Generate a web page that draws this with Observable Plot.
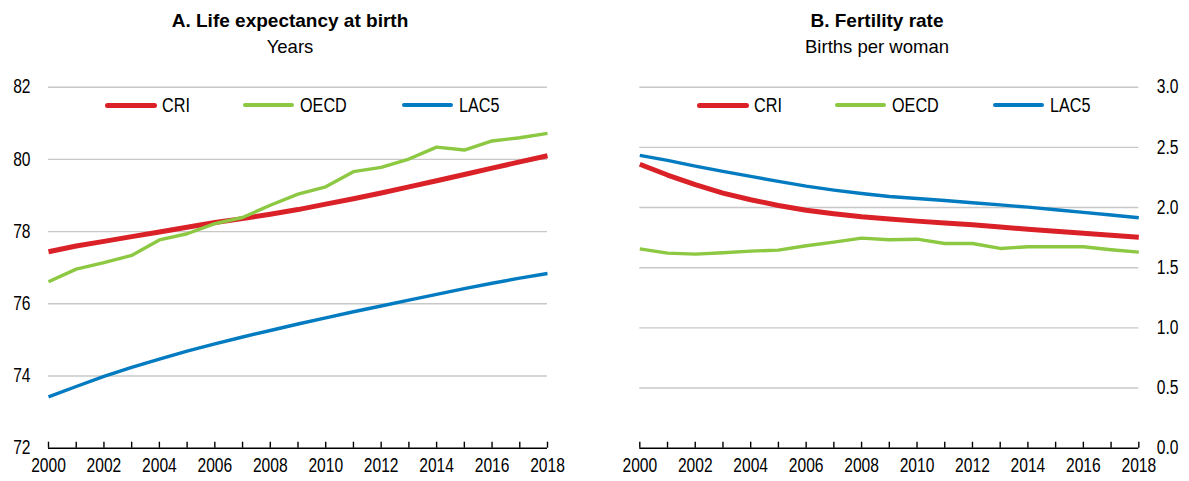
<!DOCTYPE html>
<html>
<head>
<meta charset="utf-8">
<script src="https://cdn.jsdelivr.net/npm/d3@7"></script>
<script src="https://cdn.jsdelivr.net/npm/@observablehq/plot@0.6"></script>
<style>
  body { margin: 0; background: #fff; }
  #wrap { position: relative; width: 1189px; height: 481px; overflow: hidden; font-family: "Liberation Sans", Arial, sans-serif; color: #000; }
  .title, .sub { position: absolute; text-align: center; white-space: nowrap; }
  .title { font-weight: bold; font-size: 19px; line-height: 19px; }
  .sub { font-size: 18.5px; line-height: 18.5px; }
  .panel { position: absolute; top: 62px; }
  .lg { position: absolute; font-family: "Liberation Sans", Arial, sans-serif; font-size: 20px; line-height: 20px; white-space: nowrap; transform: scaleX(0.81); transform-origin: 0 50%; }
  .sw { position: absolute; border-radius: 3px; }
</style>
</head>
<body>
<div id="wrap"></div>
<script>
// ---- data ----
const years = [2000, 2001, 2002, 2003, 2004, 2005, 2006, 2007, 2008, 2009, 2010, 2011, 2012, 2013, 2014, 2015, 2016, 2017, 2018];
const seriesNames = ["CRI", "OECD", "LAC5"];
const seriesColors = ["#DA2128", "#8CC841", "#037BC1"];

const lifeCRI  = [77.44, 77.60, 77.73, 77.86, 77.99, 78.12, 78.25, 78.36, 78.48, 78.61, 78.76, 78.91, 79.07, 79.24, 79.41, 79.58, 79.76, 79.93, 80.10];
const lifeOECD = [76.61, 76.96, 77.14, 77.34, 77.77, 77.94, 78.22, 78.39, 78.73, 79.04, 79.24, 79.66, 79.78, 80.01, 80.34, 80.26, 80.51, 80.60, 80.72];
const lifeLAC5 = [73.42, 73.71, 73.99, 74.24, 74.47, 74.69, 74.89, 75.08, 75.26, 75.44, 75.61, 75.78, 75.94, 76.10, 76.26, 76.42, 76.57, 76.71, 76.84];

const fertCRI  = [2.36, 2.27, 2.19, 2.12, 2.065, 2.017, 1.978, 1.948, 1.923, 1.904, 1.887, 1.872, 1.857, 1.838, 1.82, 1.803, 1.787, 1.770, 1.754];
const fertOECD = [1.657, 1.621, 1.613, 1.624, 1.638, 1.646, 1.682, 1.712, 1.746, 1.732, 1.737, 1.701, 1.701, 1.66, 1.674, 1.674, 1.674, 1.649, 1.629];
const fertLAC5 = [2.433, 2.392, 2.344, 2.30, 2.259, 2.217, 2.178, 2.145, 2.117, 2.092, 2.075, 2.058, 2.04, 2.022, 2.003, 1.982, 1.96, 1.938, 1.915];

const lifeTicks = [72, 74, 76, 78, 80, 82];
const fertTicks = [0, 0.5, 1, 1.5, 2, 2.5, 3];

const titleA = "A. Life expectancy at birth", subA = "Years";
const titleB = "B. Fertility rate", subB = "Births per woman";

// ---- helpers ----
function toRows(arrs) {
  const rows = [];
  arrs.forEach((arr, i) => arr.forEach((v, j) => rows.push({series: seriesNames[i], year: years[j], value: v})));
  return rows;
}
const lineWidths = {CRI: 5, OECD: 3.4, LAC5: 3.4};
const axisFont = "'Liberation Sans', Arial, sans-serif";

function panel({rows, yTicks, yFmt, yAnchor, mLeft, mRight}) {
  const drawOrder = ["LAC5", "CRI", "OECD"];
  return Plot.plot({
    width: 595, height: 419,
    marginTop: 24.7, marginBottom: 33.3, marginLeft: mLeft, marginRight: mRight,
    style: {fontFamily: axisFont, fontSize: "19.5px", color: "#000", background: "transparent"},
    x: {domain: [years[0], years[years.length - 1]]},
    y: {domain: [yTicks[0], yTicks[yTicks.length - 1]]},
    marks: [
      Plot.gridY(yTicks.slice(1), {stroke: "#c8c8c8", strokeOpacity: 1, strokeWidth: 1.4}),
      Plot.axisY(yTicks, {anchor: yAnchor, tickSize: 0, tickPadding: 18, tickFormat: yFmt, fontSize: 19.5, label: null}),
      Plot.axisX(years, {anchor: "bottom", tickSize: -6, tickPadding: 16, strokeWidth: 1.4,
        tickFormat: d => (d % 2 === 0 ? String(d) : ""), fontSize: 19.5, label: null}),
      Plot.ruleY([yTicks[0]], {stroke: "#000", strokeWidth: 1.6}),
      ...drawOrder.map(name => Plot.line(rows.filter(r => r.series === name), {
        x: "year", y: "value",
        stroke: seriesColors[seriesNames.indexOf(name)],
        strokeWidth: lineWidths[name], strokeLinejoin: "round", strokeLinecap: "butt"
      }))
    ]
  });
}

// condense axis tick labels to mimic a narrow typeface
function narrow(svg, factor) {
  svg.querySelectorAll("g[aria-label$='tick label'] text").forEach(t => {
    if (!t.textContent) return;
    const w = t.getComputedTextLength();
    if (w > 0) {
      t.setAttribute("textLength", (w * factor).toFixed(2));
      t.setAttribute("lengthAdjust", "spacingAndGlyphs");
    }
  });
}

const wrap = document.getElementById("wrap");
function addDiv(cls, text, css) {
  const d = document.createElement("div");
  d.className = cls; d.textContent = text;
  Object.assign(d.style, css);
  wrap.appendChild(d);
  return d;
}

// titles
addDiv("title", titleA, {left: "90px", width: "400px", top: "11px"});
addDiv("sub", subA, {left: "90px", width: "400px", top: "37.5px"});
addDiv("title", titleB, {left: "677px", width: "400px", top: "11px"});
addDiv("sub", subB, {left: "677px", width: "400px", top: "37.5px"});

// charts
const left = panel({rows: toRows([lifeCRI, lifeOECD, lifeLAC5]), yTicks: lifeTicks, yFmt: d => String(d), yAnchor: "left", mLeft: 48, mRight: 48});
left.classList.add("panel"); left.style.left = "0px";
wrap.appendChild(left);
narrow(left, 0.8);
const right = panel({rows: toRows([fertCRI, fertOECD, fertLAC5]), yTicks: fertTicks, yFmt: d => d.toFixed(1), yAnchor: "right", mLeft: 45.3, mRight: 50.7});
right.classList.add("panel"); right.style.left = "594px";
wrap.appendChild(right);
narrow(right, 0.8);

// legends (overlay inside the plot area)
const legendPos = [
  [105, 243, 402],
  [697, 835, 993]
];
legendPos.forEach(xs => {
  seriesNames.forEach((name, i) => {
    const x = xs[i];
    const h = name === "CRI" ? 5 : 3.6;
    addDiv("sw", "", {left: x + "px", top: (105 - h / 2) + "px", width: (name === "CRI" ? 52 : 51) + "px", height: h + "px", background: seriesColors[i]});
    addDiv("lg", name, {left: (x + 57) + "px", top: "95px"});
  });
});
</script>
</body>
</html>
